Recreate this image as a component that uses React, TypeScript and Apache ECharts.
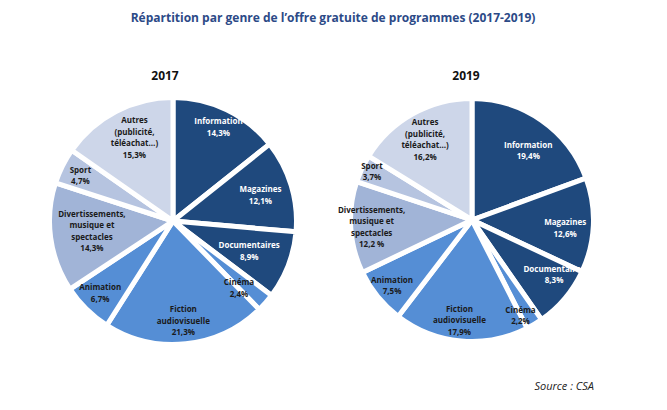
import React, { useEffect, useRef } from "react";
import * as echarts from "echarts";

const categories = [
  "Information",
  "Magazines",
  "Documentaires",
  "Cinéma",
  "Fiction audiovisuelle",
  "Animation",
  "Divertissements, musique et spectacles",
  "Sport",
  "Autres (publicité, téléachat…)",
];
const labelNames = [
  "Information",
  "Magazines",
  "Documentaires",
  "Cinéma",
  "Fiction\naudiovisuelle",
  "Animation",
  "Divertissements,\nmusique et\nspectacles",
  "Sport",
  "Autres\n(publicité,\ntéléachat…)",
];
const values2017 = [14.3, 12.1, 8.9, 2.4, 21.3, 6.7, 14.3, 4.7, 15.3];
const values2019 = [19.4, 12.6, 8.3, 2.2, 17.9, 7.5, 12.2, 3.7, 16.2];
const pct2017 = ["14,3%", "12,1%", "8,9%", "2,4%", "21,3%", "6,7%", "14,3%", "4,7%", "15,3%"];
const pct2019 = ["19,4%", "12,6%", "8,3%", "2,2%", "17,9%", "7,5%", "12,2 %", "3,7%", "16,2%"];
const years = ["2017", "2019"];

// label placement: fraction of the radius, and angular nudge (degrees) from each slice's mid-angle
const labelRadius2017 = [0.84, 0.73, 0.65, 0.75, 0.8, 0.82, 0.65, 0.83, 0.74];
const labelNudge2017 = [0, 0, 0, 4, 0, 1, 1, 0, 3];
const labelRadius2019 = [0.73, 0.76, 0.8, 0.87, 0.82, 0.84, 0.82, 0.91, 0.76];
const labelNudge2019 = [4, 2, -7, 4, 2, 0, 0, 1, -1];

const sliceColors = ["#1F497D", "#1F497D", "#1F497D", "#558ED5", "#558ED5", "#558ED5", "#A1B4D7", "#B6C4E0", "#CDD6E9"];
const textColors = ["#ffffff", "#ffffff", "#ffffff", "#1a1a1a", "#1a1a1a", "#1a1a1a", "#1a1a1a", "#1a1a1a", "#1a1a1a"];

const BORDER = 5;

function buildSeries(
  values: number[],
  pct: string[],
  labelRadius: number[],
  labelNudge: number[],
  center: [number, number],
  rVisible: number
) {
  const total = values.reduce((a, b) => a + b, 0);
  const rSeries = rVisible + BORDER / 2;
  let cum = 0;
  const data = values.map((v, i) => {
    const mid = ((cum + v / 2) / total) * Math.PI * 2;
    cum += v;
    const target = mid + (labelNudge[i] * Math.PI) / 180;
    const defX = Math.sin(mid) * (rSeries / 2);
    const defY = -Math.cos(mid) * (rSeries / 2);
    const tx = Math.sin(target) * labelRadius[i] * rVisible;
    const ty = -Math.cos(target) * labelRadius[i] * rVisible;
    return {
      name: categories[i],
      value: v,
      itemStyle: { color: sliceColors[i] },
      label: { color: textColors[i], offset: [tx - defX, ty - defY] },
    };
  });
  return {
    type: "pie",
    center,
    radius: [0, rSeries],
    startAngle: 90,
    clockwise: true,
    silent: true,
    avoidLabelOverlap: false,
    labelLine: { show: false },
    itemStyle: { borderColor: "#ffffff", borderWidth: BORDER },
    emphasis: { disabled: true },
    label: {
      show: true,
      position: "inside",
      fontFamily: "Open Sans",
      fontWeight: "bold",
      fontSize: 8,
      lineHeight: 11.5,
      align: "center",
      verticalAlign: "middle",
      overflow: "none",
      formatter: (p: any) => `${labelNames[p.dataIndex]}\n${pct[p.dataIndex]}`,
    },
    data,
  };
}

export default function App() {
  const ref = useRef<HTMLDivElement>(null);
  useEffect(() => {
    document.body.style.margin = "0";
    const chart = echarts.init(ref.current!, undefined, { renderer: "svg" });
    const textBase = { fontFamily: "Open Sans", textAlign: "center", textVerticalAlign: "middle" };
    chart.setOption({
      animation: false,
      backgroundColor: "#ffffff",
      graphic: [
        {
          type: "text",
          x: 333,
          y: 17,
          style: {
            ...textBase,
            text: "Répartition par genre de l’offre gratuite de programmes (2017-2019)",
            fontWeight: "bold",
            fontSize: 12,
            fill: "#2C4A87",
          },
        },
        {
          type: "text",
          x: 165,
          y: 75,
          style: { ...textBase, text: years[0], fontWeight: "bold", fontSize: 12, fill: "#111111" },
        },
        {
          type: "text",
          x: 466,
          y: 75,
          style: { ...textBase, text: years[1], fontWeight: "bold", fontSize: 12, fill: "#111111" },
        },
        {
          type: "text",
          x: 594,
          y: 385,
          style: {
            ...textBase,
            text: "Source : CSA",
            fontStyle: "italic",
            fontSize: 11,
            fill: "#222222",
            textAlign: "right",
          },
        },
      ],
      series: [
        buildSeries(values2017, pct2017, labelRadius2017, labelNudge2017, [173, 221], 121),
        buildSeries(values2019, pct2019, labelRadius2019, labelNudge2019, [472, 220], 119),
      ],
    });
    return () => chart.dispose();
  }, []);
  return <div ref={ref} style={{ width: 667, height: 410 }} />;
}
